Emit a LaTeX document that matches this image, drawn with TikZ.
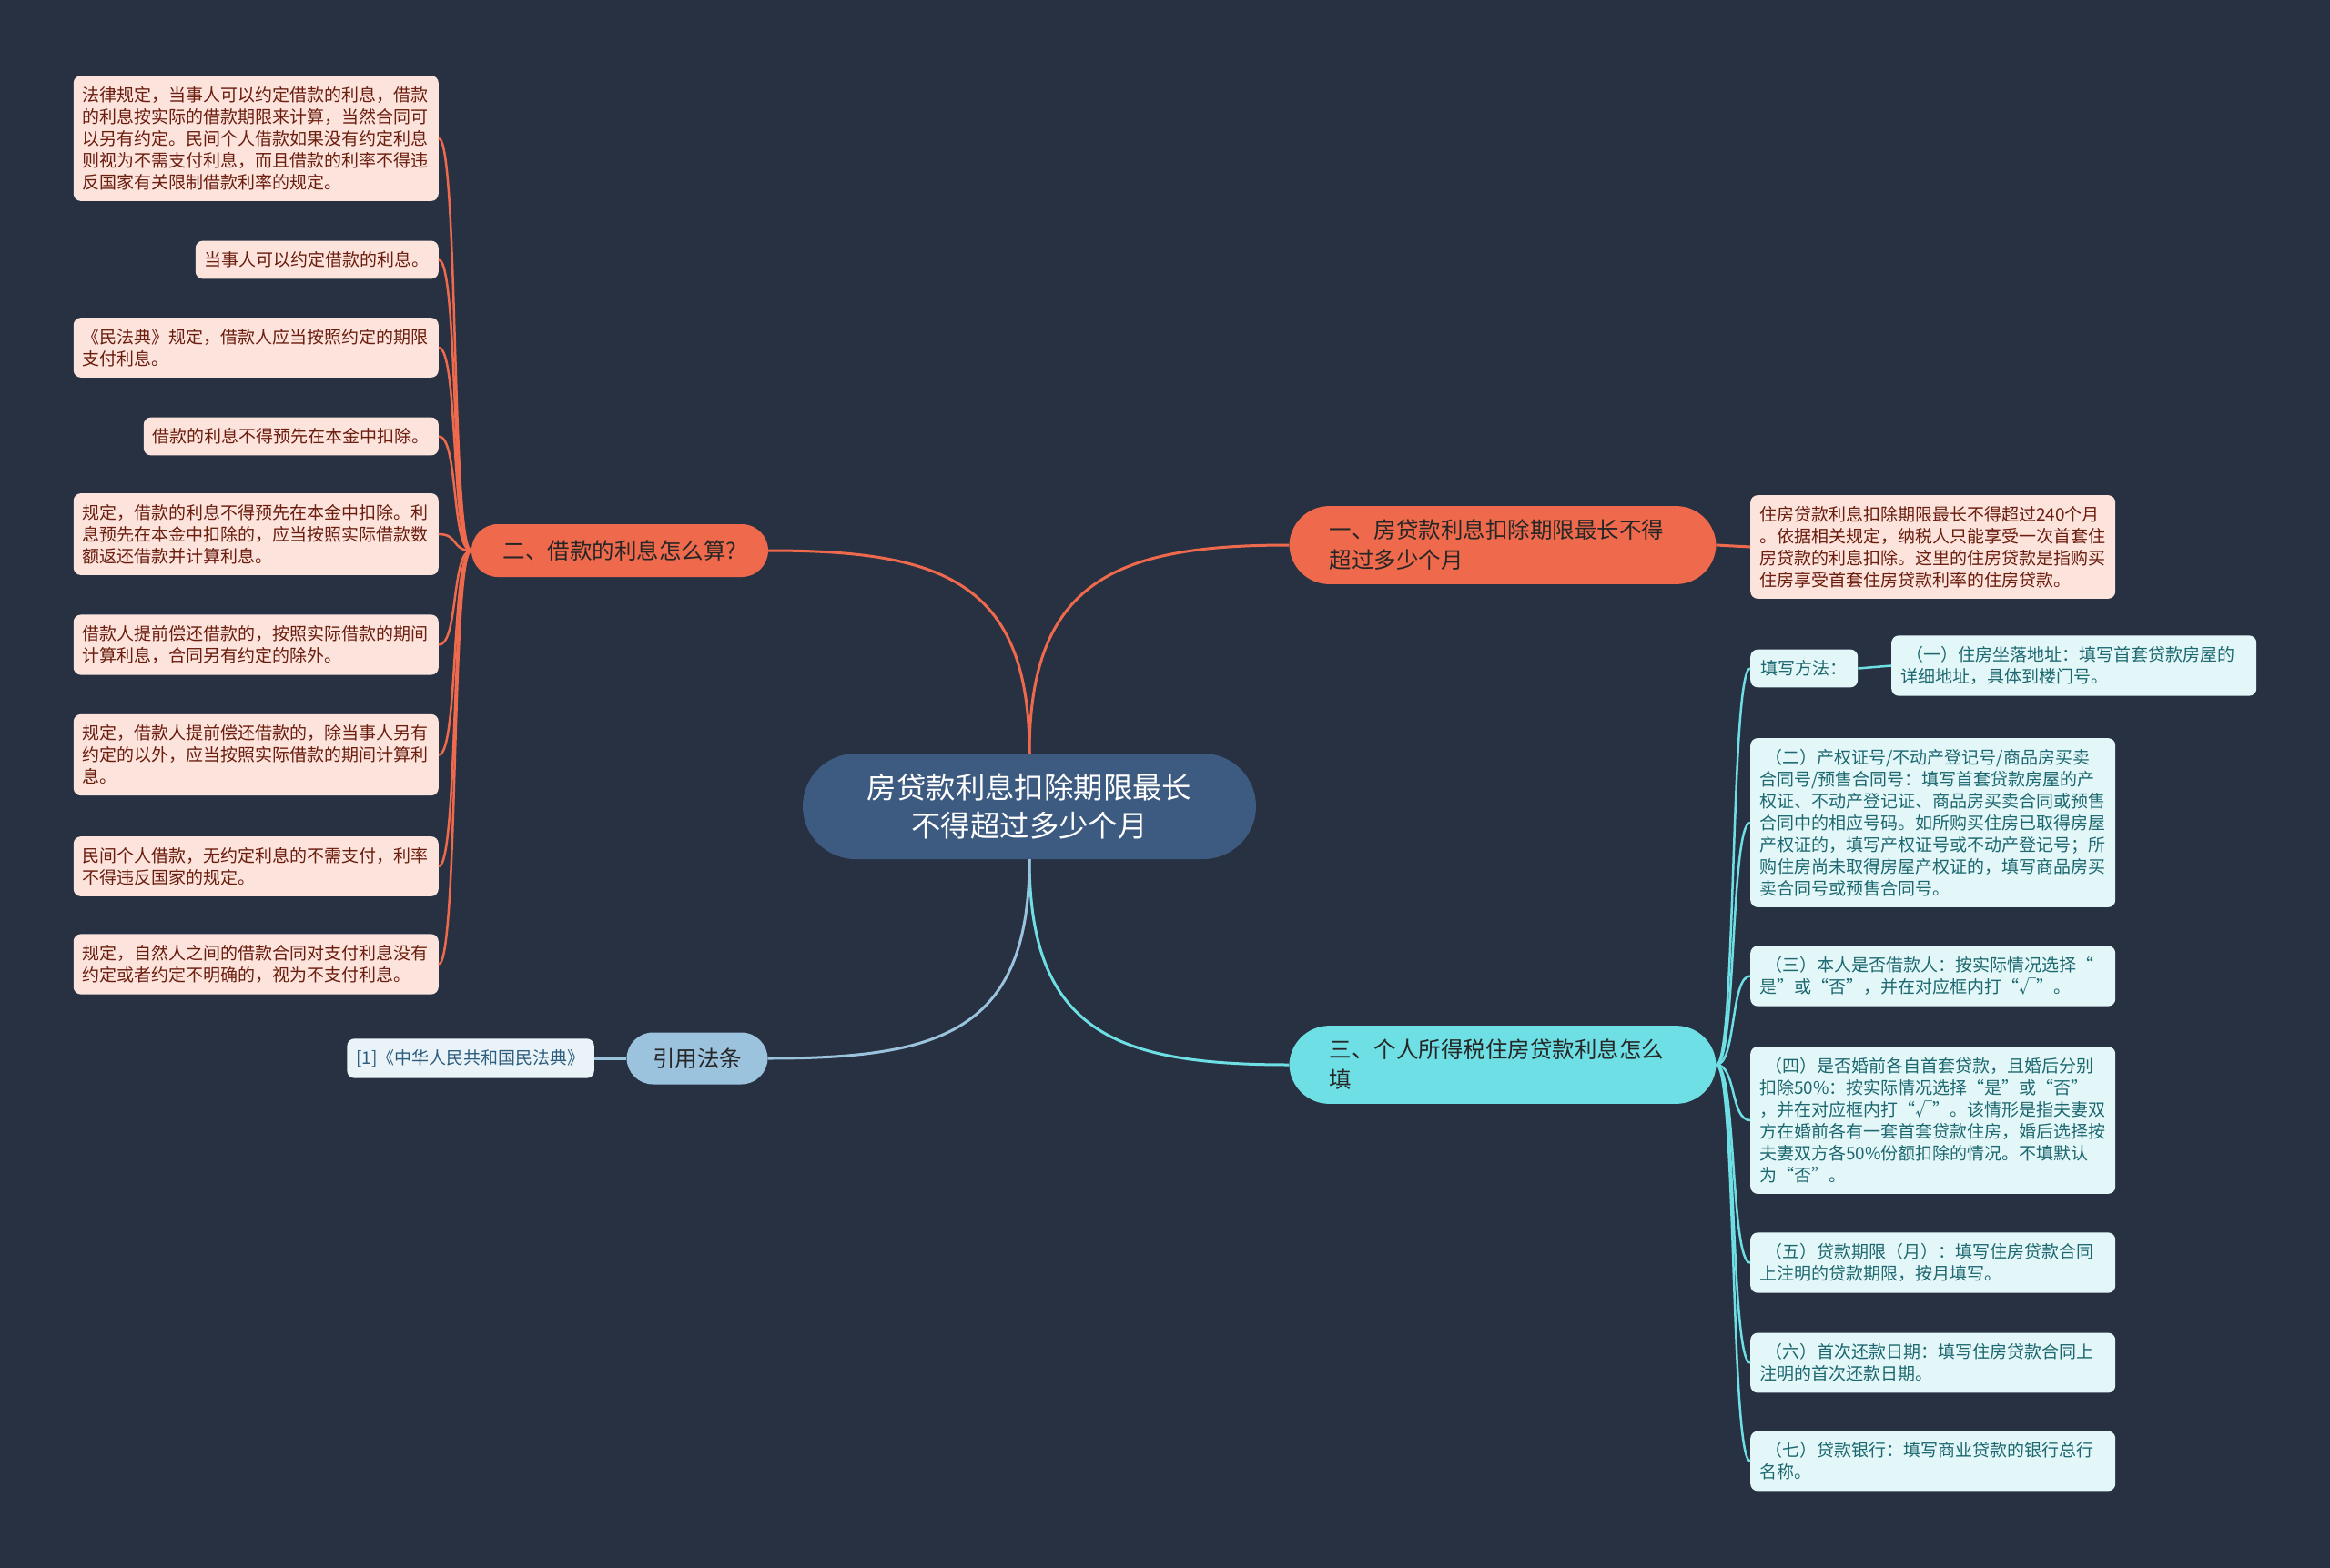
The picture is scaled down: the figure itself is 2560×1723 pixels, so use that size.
\documentclass[tikz,border=0pt]{standalone}
\usepackage{fontspec}
\setmainfont{Noto Sans CJK SC}
\definecolor{bgc}{HTML}{283142}
\definecolor{rootc}{HTML}{3D5A80}
\definecolor{orng}{HTML}{EF6A4C}
\definecolor{orngleaf}{HTML}{FCE4DD}
\definecolor{orngtxt}{HTML}{6B1D0E}
\definecolor{cyn}{HTML}{6EDFE4}
\definecolor{cynleaf}{HTML}{E3F7F8}
\definecolor{cyntxt}{HTML}{1D6870}
\definecolor{lblue}{HTML}{9CC3DE}
\definecolor{lblueleaf}{HTML}{EAF3F8}
\definecolor{lbluetxt}{HTML}{2D5D7E}
\begin{document}
\begin{tikzpicture}[x=1pt,y=-1pt,
  rootnode/.style={fill=rootc, rounded corners=58pt, minimum width=498pt, minimum height=116pt, align=center, text=white, font=\fontsize{32.4}{42}\selectfont},
  bignode/.style={rounded corners=44pt, text width=381pt, inner xsep=44pt, inner ysep=15pt, align=left, text=black!85, font=\fontsize{24.5}{33}\selectfont},
  smallbr/.style={rounded corners=29pt, minimum height=57pt, align=center, text=black!85, font=\fontsize{24.5}{33}\selectfont},
  leaf/.style={rounded corners=8pt, inner xsep=10pt, inner ysep=12pt, align=left, font=\fontsize{19}{24}\selectfont},
  wide/.style={text width=381pt},
  pinkleaf/.style={leaf, fill=orngleaf, text=orngtxt},
  cyanleaf/.style={leaf, fill=cynleaf, text=cyntxt},
  blueleaf/.style={leaf, fill=lblueleaf, text=lbluetxt},
  oline/.style={draw=orng, line width=3pt},
  cline/.style={draw=cyn, line width=3pt},
  bline/.style={draw=lblue, line width=3pt}]
\fill[bgc] (0,0) rectangle (2560,1723);
\useasboundingbox (0,0) rectangle (2560,1723);
% main topic
\node[rootnode] (root) at (1131,886) {房贷款利息扣除期限最长\\不得超过多少个月};
% branches
\node[bignode, fill=orng] (br1) at (1651,599) {一、房贷款利息扣除期限最长不得\\超过多少个月};
\node[smallbr, fill=orng, minimum width=326pt, minimum height=58pt] (br2) at (681,605) {二、借款的利息怎么算?};
\node[bignode, fill=cyn] (br3) at (1651,1170) {三、个人所得税住房贷款利息怎么\\填};
\node[smallbr, fill=lblue, minimum width=155pt] (br4) at (766,1163) {引用法条};
% branch 1
\node[pinkleaf, wide, anchor=west] (lf1) at (1923,601) {住房贷款利息扣除期限最长不得超过240个月\\。依据相关规定，纳税人只能享受一次首套住\\房贷款的利息扣除。这里的住房贷款是指购买\\住房享受首套住房贷款利率的住房贷款。};
% branch 2
\node[pinkleaf, wide, anchor=east] (lf21) at (482,152) {法律规定，当事人可以约定借款的利息，借款\\的利息按实际的借款期限来计算，当然合同可\\以另有约定。民间个人借款如果没有约定利息\\则视为不需支付利息，而且借款的利率不得违\\反国家有关限制借款利率的规定。};
\node[pinkleaf, anchor=east] (lf22) at (482,285.5) {当事人可以约定借款的利息。};
\node[pinkleaf, wide, anchor=east] (lf23) at (482,382) {《民法典》规定，借款人应当按照约定的期限\\支付利息。};
\node[pinkleaf, anchor=east] (lf24) at (482,479.5) {借款的利息不得预先在本金中扣除。};
\node[pinkleaf, wide, anchor=east] (lf25) at (482,587) {规定，借款的利息不得预先在本金中扣除。利\\息预先在本金中扣除的，应当按照实际借款数\\额返还借款并计算利息。};
\node[pinkleaf, wide, anchor=east] (lf26) at (482,708.5) {借款人提前偿还借款的，按照实际借款的期间\\计算利息，合同另有约定的除外。};
\node[pinkleaf, wide, anchor=east] (lf27) at (482,829.5) {规定，借款人提前偿还借款的，除当事人另有\\约定的以外，应当按照实际借款的期间计算利\\息。};
\node[pinkleaf, wide, anchor=east] (lf28) at (482,952) {民间个人借款，无约定利息的不需支付，利率\\不得违反国家的规定。};
\node[pinkleaf, wide, anchor=east] (lf29) at (482,1059.5) {规定，自然人之间的借款合同对支付利息没有\\约定或者约定不明确的，视为不支付利息。};
% branch 3
\node[cyanleaf, anchor=west, inner xsep=11.5pt] (lf30) at (1923,734.5) {填写方法：};
\node[cyanleaf, wide, anchor=west] (lf31) at (2078,731.5) {\hspace*{6pt}（一）住房坐落地址：填写首套贷款房屋的\\详细地址，具体到楼门号。};
\node[cyanleaf, wide, anchor=west] (lf32) at (1923,904) {\hspace*{6pt}（二）产权证号/不动产登记号/商品房买卖\\合同号/预售合同号：填写首套贷款房屋的产\\权证、不动产登记证、商品房买卖合同或预售\\合同中的相应号码。如所购买住房已取得房屋\\产权证的，填写产权证号或不动产登记号；所\\购住房尚未取得房屋产权证的，填写商品房买\\卖合同号或预售合同号。};
\node[cyanleaf, wide, anchor=west] (lf33) at (1923,1072.5) {\hspace*{6pt}（三）本人是否借款人：按实际情况选择“\\是”或“否”，并在对应框内打“√”。};
\node[cyanleaf, wide, anchor=west] (lf34) at (1923,1231) {\hspace*{6pt}（四）是否婚前各自首套贷款，且婚后分别\\扣除50\%：按实际情况选择“是”或“否”\\，并在对应框内打“√”。该情形是指夫妻双\\方在婚前各有一套首套贷款住房，婚后选择按\\夫妻双方各50\%份额扣除的情况。不填默认\\为“否”。};
\node[cyanleaf, wide, anchor=west] (lf35) at (1923,1387.5) {\hspace*{6pt}（五）贷款期限（月）：填写住房贷款合同\\上注明的贷款期限，按月填写。};
\node[cyanleaf, wide, anchor=west] (lf36) at (1923,1497.5) {\hspace*{6pt}（六）首次还款日期：填写住房贷款合同上\\注明的首次还款日期。};
\node[cyanleaf, wide, anchor=west] (lf37) at (1923,1605.5) {\hspace*{6pt}（七）贷款银行：填写商业贷款的银行总行\\名称。};
% branch 4
\node[blueleaf, anchor=east] (lf41) at (653,1163) {[1]《中华人民共和国民法典》};
% connectors from the root
\draw[oline] (root.north) .. controls +(0,-190) and +(-190,0) .. (br1.west);
\draw[oline] (root.north) .. controls +(0,-190) and +(190,0) .. (br2.east);
\draw[cline] (root.south) .. controls +(0,190) and +(-190,0) .. (br3.west);
\draw[bline] (root.south) .. controls +(0,190) and +(190,0) .. (br4.east);
% connectors to leaves
\draw[oline] (br1.east) -- (lf1.west);
\foreach \k in {21,...,29}
  \draw[oline, line width=2.5pt] (br2.west) .. controls +(-22,0) and +(22,0) .. (lf\k.east);
\foreach \k in {30,32,33,34,35,36,37}
  \draw[cline, line width=2.5pt] (br3.east) .. controls +(22,0) and +(-22,0) .. (lf\k.west);
\draw[cline, line width=2.5pt] (lf30.east) -- (lf31.west);
\draw[bline] (br4.west) -- (lf41.east);
\end{tikzpicture}
\end{document}
